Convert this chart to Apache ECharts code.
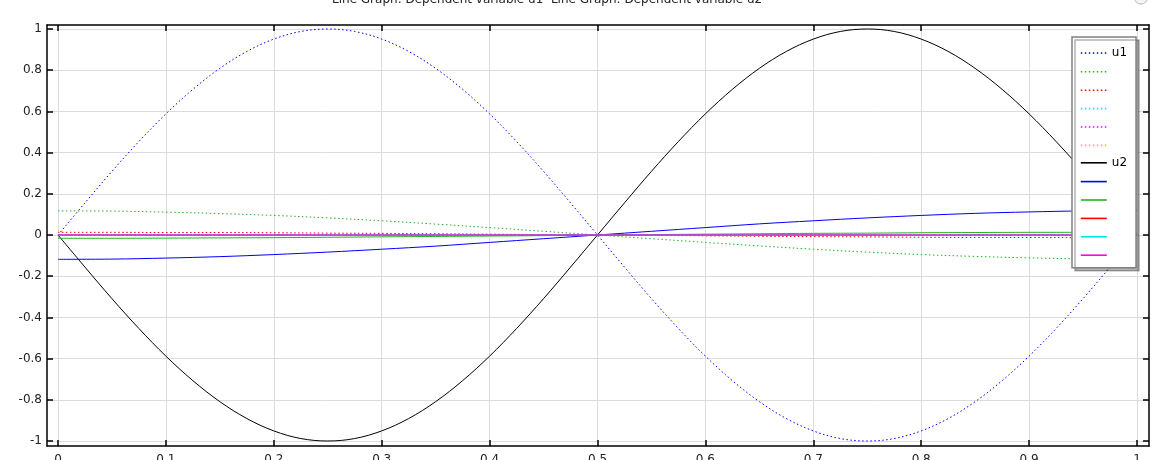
<!DOCTYPE html>
<html><head><meta charset="utf-8">
<script src="https://cdn.jsdelivr.net/npm/echarts@6/dist/echarts.min.js"></script>
<style>html,body{margin:0;padding:0;background:#fff}#c{width:1162px;height:460px}</style>
</head><body><div id="c"></div>
<script>
const titleText = 'Line Graph: Dependent variable u1  Line Graph: Dependent variable u2';
const xTicks = [0, 0.1, 0.2, 0.3, 0.4, 0.5, 0.6, 0.7, 0.8, 0.9, 1];
const yTicks = [-1, -0.8, -0.6, -0.4, -0.2, 0, 0.2, 0.4, 0.6, 0.8, 1];

const xFine = [0, 0.025, 0.05, 0.075, 0.1, 0.125, 0.15, 0.175, 0.2, 0.225, 0.25, 0.275, 0.3, 0.325, 0.35, 0.375, 0.4, 0.425, 0.45, 0.475, 0.5,
  0.525, 0.55, 0.575, 0.6, 0.625, 0.65, 0.675, 0.7, 0.725, 0.75, 0.775, 0.8, 0.825, 0.85, 0.875, 0.9, 0.925, 0.95, 0.975, 1];
const u1Blue = [0, 0.156, 0.309, 0.454, 0.588, 0.707, 0.809, 0.891, 0.951, 0.988, 1, 0.988, 0.951, 0.891, 0.809, 0.707, 0.588, 0.454, 0.309, 0.156, 0,
  -0.156, -0.309, -0.454, -0.588, -0.707, -0.809, -0.891, -0.951, -0.988, -1, -0.988, -0.951, -0.891, -0.809, -0.707, -0.588, -0.454, -0.309, -0.156, 0];
const u2Black = [0, -0.156, -0.309, -0.454, -0.588, -0.707, -0.809, -0.891, -0.951, -0.988, -1, -0.988, -0.951, -0.891, -0.809, -0.707, -0.588, -0.454, -0.309, -0.156, 0,
  0.156, 0.309, 0.454, 0.588, 0.707, 0.809, 0.891, 0.951, 0.988, 1, 0.988, 0.951, 0.891, 0.809, 0.707, 0.588, 0.454, 0.309, 0.156, 0];

const xCoarse = [0, 0.05, 0.1, 0.15, 0.2, 0.25, 0.3, 0.35, 0.4, 0.45, 0.5, 0.55, 0.6, 0.65, 0.7, 0.75, 0.8, 0.85, 0.9, 0.95, 1];
const u1Green = [0.117, 0.116, 0.111, 0.104, 0.095, 0.083, 0.069, 0.053, 0.036, 0.018, 0, -0.018, -0.036, -0.053, -0.069, -0.083, -0.095, -0.104, -0.111, -0.116, -0.117];
const u1Red = [0.013, 0.013, 0.012, 0.012, 0.011, 0.009, 0.008, 0.006, 0.004, 0.002, 0, -0.002, -0.004, -0.006, -0.008, -0.009, -0.011, -0.012, -0.012, -0.013, -0.013];
const u1Cyan = [0, 0, 0, 0, 0, 0, 0, 0, 0, 0, 0, 0, 0, 0, 0, 0, 0, 0, 0, 0, 0];
const u1Magenta = [0, 0, 0, 0, 0, 0, 0, 0, 0, 0, 0, 0, 0, 0, 0, 0, 0, 0, 0, 0, 0];
const u1Orange = [0, 0, 0, 0, 0, 0, 0, 0, 0, 0, 0, 0, 0, 0, 0, 0, 0, 0, 0, 0, 0];
const u2Blue = [-0.118, -0.117, -0.112, -0.105, -0.095, -0.083, -0.069, -0.054, -0.036, -0.018, 0, 0.018, 0.036, 0.054, 0.069, 0.083, 0.095, 0.105, 0.112, 0.117, 0.119];
const u2Green = [-0.016, -0.016, -0.015, -0.014, -0.013, -0.011, -0.009, -0.007, -0.005, -0.003, 0, 0.002, 0.004, 0.006, 0.008, 0.009, 0.011, 0.012, 0.013, 0.013, 0.013];
const u2Red = [0, 0, 0, 0, 0, 0, 0, 0, 0, 0, 0, 0, 0, 0, 0, 0, 0, 0, 0, 0, 0];
const u2Cyan = [0, 0, 0, 0, 0, 0, 0, 0, 0, 0, 0, 0, 0, 0, 0, 0, 0, 0, 0, 0, 0];
const u2Magenta = [0, 0, 0, 0, 0, 0, 0, 0, 0, 0, 0, 0, 0, 0, 0, 0, 0, 0, 0, 0, 0];

const pairs = (xs, ys) => xs.map((x, i) => [x, ys[i]]);
const FONT = 'DejaVu Sans';

const mk = (name, xs, ys, color, dotted) => ({
  name, type: 'line', data: pairs(xs, ys), symbol: 'none', showSymbol: false, smooth: 0.35,
  lineStyle: { color, width: 1, type: dotted ? [1.5, 2.5] : 'solid' },
  itemStyle: { color }, emphasis: { disabled: true }, silent: true
});

const series = [
  mk('u1', xFine, u1Blue, '#0000ff', true),
  mk('u1_g', xCoarse, u1Green, '#22b422', true),
  mk('u1_r', xCoarse, u1Red, '#ff0000', true),
  mk('u1_c', xCoarse, u1Cyan, '#00e8e8', true),
  mk('u1_m', xCoarse, u1Magenta, '#ff00ff', true),
  mk('u1_o', xCoarse, u1Orange, '#ffbb00', true),
  mk('u2', xFine, u2Black, '#000000', false),
  mk('u2_b', xCoarse, u2Blue, '#0000ff', false),
  mk('u2_g', xCoarse, u2Green, '#22b422', false),
  mk('u2_r', xCoarse, u2Red, '#ff0000', false),
  mk('u2_c', xCoarse, u2Cyan, '#00e8e8', false),
  mk('u2_m', xCoarse, u2Magenta, '#ff00ff', false)
];

const XMIN = -0.010195, XMAX = 1.011125, YMIN = -1.024272, YMAX = 1.019417;
const axLine = { show: true, onZero: false, lineStyle: { color: '#000', width: 1.5 } };
const lbl = { color: '#222', fontSize: 12, fontFamily: FONT };

const chart = echarts.init(document.getElementById('c'), null, { renderer: 'canvas' });
chart.setOption({
  animation: false,
  backgroundColor: '#fff',
  title: { text: titleText, left: 327, top: -11, textStyle: { fontSize: 12, fontWeight: 'normal', color: '#222', fontFamily: FONT } },
  grid: { left: 47, top: 25, width: 1102, height: 421, outerBoundsMode: 'none', containLabel: false },
  xAxis: [
    { type: 'value', min: XMIN, max: XMAX, position: 'bottom', axisLine: axLine,
      axisTick: { inside: true, length: 6, customValues: xTicks, lineStyle: { color: '#000', width: 1.5 } },
      axisLabel: Object.assign({ customValues: xTicks, margin: 8, formatter: v => String(v) }, lbl),
      splitLine: { show: true, lineStyle: { color: '#dcdcdc', width: 1 } } },
    { type: 'value', min: XMIN, max: XMAX, position: 'top', axisLine: axLine,
      axisTick: { inside: true, length: 6, customValues: xTicks, lineStyle: { color: '#000', width: 1.5 } },
      axisLabel: { show: false }, splitLine: { show: false } }
  ],
  yAxis: [
    { type: 'value', min: YMIN, max: YMAX, position: 'left', axisLine: axLine,
      axisTick: { inside: true, length: 6, customValues: yTicks, lineStyle: { color: '#000', width: 1.5 } },
      axisLabel: Object.assign({ customValues: yTicks, margin: 5, formatter: v => String(v) }, lbl),
      splitLine: { show: true, lineStyle: { color: '#dcdcdc', width: 1 } } },
    { type: 'value', min: YMIN, max: YMAX, position: 'right', axisLine: axLine,
      axisTick: { inside: true, length: 6, customValues: yTicks, lineStyle: { color: '#000', width: 1.5 } },
      axisLabel: { show: false }, splitLine: { show: false } }
  ],
  legend: {
    orient: 'vertical', left: 1072, top: 37, padding: [10, 9, 7, 8],
    itemWidth: 26, itemHeight: 14, itemGap: 5.8,
    backgroundColor: '#fff', borderColor: '#808080', borderWidth: 1.5,
    shadowColor: 'rgba(0,0,0,0.3)', shadowOffsetX: 3, shadowOffsetY: 3, shadowBlur: 0,
    selectedMode: false,
    itemStyle: { opacity: 0 },
    lineStyle: { width: 1.6 },
    textStyle: { fontSize: 12, color: '#000', fontFamily: FONT },
    formatter: n => (n === 'u1' || n === 'u2') ? n : '',
    data: series.map(s => s.name)
  },
  graphic: [
    { type: 'circle', shape: { cx: 1141, cy: -3, r: 7 }, style: { fill: '#f4f4f4', stroke: '#bbb', lineWidth: 1 }, silent: true }
  ],
  series
});
</script></body></html>
